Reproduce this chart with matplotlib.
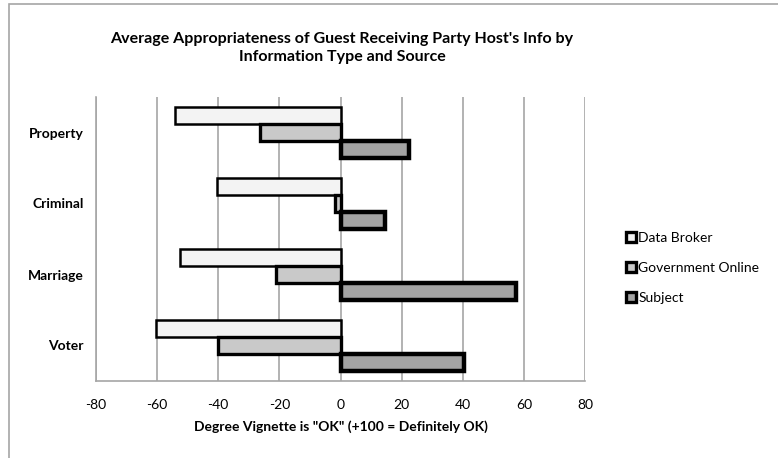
import matplotlib.pyplot as plt
import matplotlib.patches as mpatches
from matplotlib.legend_handler import HandlerPatch
import numpy as np

plt.rcParams['font.family'] = ['Lato', 'DejaVu Sans']

# Data
categories = ['Property', 'Criminal', 'Marriage', 'Voter']
series_names = ['Data Broker', 'Government Online', 'Subject']
data_broker = [-54, -40.5, -52.5, -60.5]
gov_online = [-26.5, -1.7, -21, -40]
subject = [22.5, 14.5, 57.5, 40.5]
x_ticks = [-80, -60, -40, -20, 0, 20, 40, 60, 80]

values = [data_broker, gov_online, subject]
faces = ['#f3f3f3', '#c9c9c9', '#a3a3a3']
edge_w = [1.8, 2.4, 3.2]

fig = plt.figure(figsize=(7.78, 4.58), dpi=100)
fig.patch.set_facecolor('white')

# outer chart frame (runs off the right/bottom edge)
frame = mpatches.Rectangle((9 / 778, -0.1), 1.2, 1 - 4 / 458 + 0.1,
                           transform=fig.transFigure, fill=False,
                           edgecolor='#a6a6a6', linewidth=1.2)
fig.add_artist(frame)

ax = fig.add_axes([96 / 778, 1 - 381 / 458, (585 - 96) / 778, (381 - 97) / 458])

y = np.arange(len(categories))
bar_h = 0.24
for i, (vals, fc, lw) in enumerate(zip(values, faces, edge_w)):
    ax.barh(y + (i - 1) * bar_h, vals, height=bar_h, color=fc,
            edgecolor='black', linewidth=lw, label=series_names[i], zorder=3)

ax.set_xlim(-80, 80)
ax.set_ylim(len(categories) - 0.5, -0.5)
ax.set_xticks(x_ticks)
ax.set_xticklabels([str(t) for t in x_ticks], fontsize=10)
ax.set_yticks(y)
ax.set_yticklabels(categories, fontsize=10, fontweight='bold')
ax.tick_params(axis='x', length=0, pad=13)
ax.tick_params(axis='y', length=0, pad=9)
ax.grid(axis='x', color='#a6a6a6', linewidth=1.2, zorder=0)

for side in ['top', 'right']:
    ax.spines[side].set_visible(False)
for side in ['left', 'bottom']:
    ax.spines[side].set_color('#a6a6a6')
    ax.spines[side].set_linewidth(1.2)

ax.set_xlabel('Degree Vignette is "OK" (+100 = Definitely OK)', fontsize=10,
              fontweight='bold', labelpad=7)

fig.text(342 / 778, 1 - 48 / 458,
         "Average Appropriateness of Guest Receiving Party Host's Info by\nInformation Type and Source",
         ha='center', va='center', fontsize=11.5, fontweight='bold', linespacing=1.35)


class SquareHandler(HandlerPatch):
    def create_artists(self, legend, orig_handle, xdescent, ydescent,
                       width, height, fontsize, trans):
        s = height * 1.0
        p = mpatches.Rectangle((width - s, (height - s) / 2 - ydescent), s, s,
                               facecolor=orig_handle.get_facecolor(),
                               edgecolor='black', linewidth=2.4)
        p.set_transform(trans)
        return [p]


handles = [mpatches.Patch(facecolor=fc, edgecolor='black', label=n)
           for fc, n in zip(faces, series_names)]
fig.legend(handles=handles, loc='center left', bbox_to_anchor=(612 / 778, 1 - 268 / 458),
           frameon=False, fontsize=10, handlelength=0.8, handletextpad=0.2,
           labelspacing=1.3, handler_map={mpatches.Patch: SquareHandler()})

fig.savefig('out.png', dpi=100)
